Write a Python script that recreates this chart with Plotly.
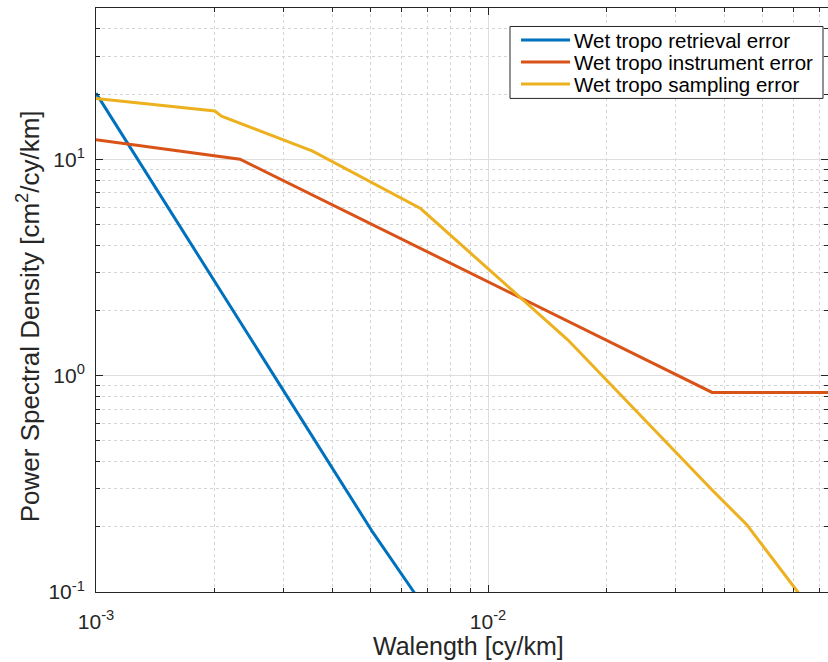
import plotly.graph_objects as go

# ---- data ----
retr_x = [1e-3, 5.08e-3, 6.47e-3, 1e-2]
retr_y = [20.2, 0.189, 0.1, 0.0316]

inst_x = [1e-3, 2.33e-3, 3.73e-2, 8e-2]
inst_y = [12.3, 10.0, 0.836, 0.836]

samp_x = [1e-3, 2.01e-3, 2.09e-3, 3.57e-3, 6.73e-3, 1.60e-2, 3.73e-2, 4.58e-2, 6.17e-2, 8e-2]
samp_y = [19.1, 16.7, 15.8, 10.9, 5.92, 1.46, 0.296, 0.204, 0.1, 0.0537]

names = ["Wet tropo retrieval error", "Wet tropo instrument error", "Wet tropo sampling error"]
colors = ["#0072BD", "#D95319", "#EDB120"]

x_major = [1e-3, 1e-2]
x_major_text = ["10<sup>-3</sup>", "10<sup>-2</sup>"]
y_major = [0.1, 1, 10]
y_major_text = ["10<sup>-1</sup>", "10<sup>0</sup>", "10<sup>1</sup>"]
x_minor = [m * d for d in (1e-3, 1e-2) for m in range(2, 10)]
y_minor = [m * d for d in (0.1, 1, 10) for m in range(2, 10)]

FONT = "Liberation Sans, Arial, Helvetica, sans-serif"
AX = "#262626"

fig = go.Figure()
for xs, ys, nm, c in zip([retr_x, inst_x, samp_x], [retr_y, inst_y, samp_y], names, colors):
    fig.add_trace(go.Scatter(x=xs, y=ys, mode="lines", name=nm, showlegend=False,
                             line=dict(color=c, width=3)))

L, T, B = 96, 7.5, 70
W, H = 828, 662
pw, ph = W - L, H - T - B
xr_end = -3 + pw / 392.0


def px(xp):
    return (xp - L) / pw


def py(yp):
    return (H - B - yp) / ph


axis_common = dict(
    type="log", showline=True, linecolor=AX, linewidth=1, mirror="ticks",
    ticks="inside", ticklen=7, tickcolor=AX, tickwidth=1,
    showgrid=True, gridcolor="#dedede", gridwidth=1,
    tickfont=dict(family=FONT, size=21, color=AX),
    zeroline=False,
)

fig.update_xaxes(**axis_common, range=[-3, xr_end],
                 tickvals=x_major, ticktext=x_major_text,
                 ticklabelstandoff=11,
                 minor=dict(tickvals=x_minor, ticks="inside", ticklen=4, tickcolor=AX,
                            showgrid=True, griddash="dot", gridcolor="#d4d4d4", gridwidth=1))
fig.update_yaxes(**axis_common, range=[-1, 1.69897],
                 tickvals=y_major, ticktext=y_major_text,
                 ticklabelstandoff=6,
                 minor=dict(tickvals=y_minor, ticks="inside", ticklen=4, tickcolor=AX,
                            showgrid=True, griddash="dot", gridcolor="#d4d4d4", gridwidth=1))

fig.add_annotation(text="Walength [cy/km]", xref="paper", yref="paper",
                   x=px(468), y=py(646), xanchor="center", yanchor="middle",
                   showarrow=False, font=dict(family=FONT, size=25, color=AX))
fig.add_annotation(text="Power Spectral Density [cm<sup>2</sup>/cy/km]", xref="paper", yref="paper",
                   x=px(28), y=py(316), xanchor="center", yanchor="middle",
                   textangle=-90, showarrow=False, font=dict(family=FONT, size=26, color=AX))

# ---- legend box (drawn to match the reference's compact MATLAB legend) ----
fig.add_shape(type="rect", xref="paper", yref="paper",
              x0=px(510), x1=px(823), y0=py(98), y1=py(26),
              line=dict(color=AX, width=1), fillcolor="white", layer="above")
leg_rows = [39.5, 61.5, 83.5]
for nm, c, yy in zip(names, colors, leg_rows):
    fig.add_shape(type="line", xref="paper", yref="paper",
                  x0=px(521), x1=px(570), y0=py(yy), y1=py(yy),
                  line=dict(color=c, width=3), layer="above")
    fig.add_annotation(text=nm, xref="paper", yref="paper",
                       x=px(572), y=py(yy + 1), xanchor="left", yanchor="middle",
                       showarrow=False, font=dict(family=FONT, size=20.5, color="black"))

fig.update_layout(
    width=W, height=H,
    margin=dict(l=L, r=0, t=T, b=B),
    paper_bgcolor="white", plot_bgcolor="white",
    showlegend=False,
)

fig.write_html("out.html")
